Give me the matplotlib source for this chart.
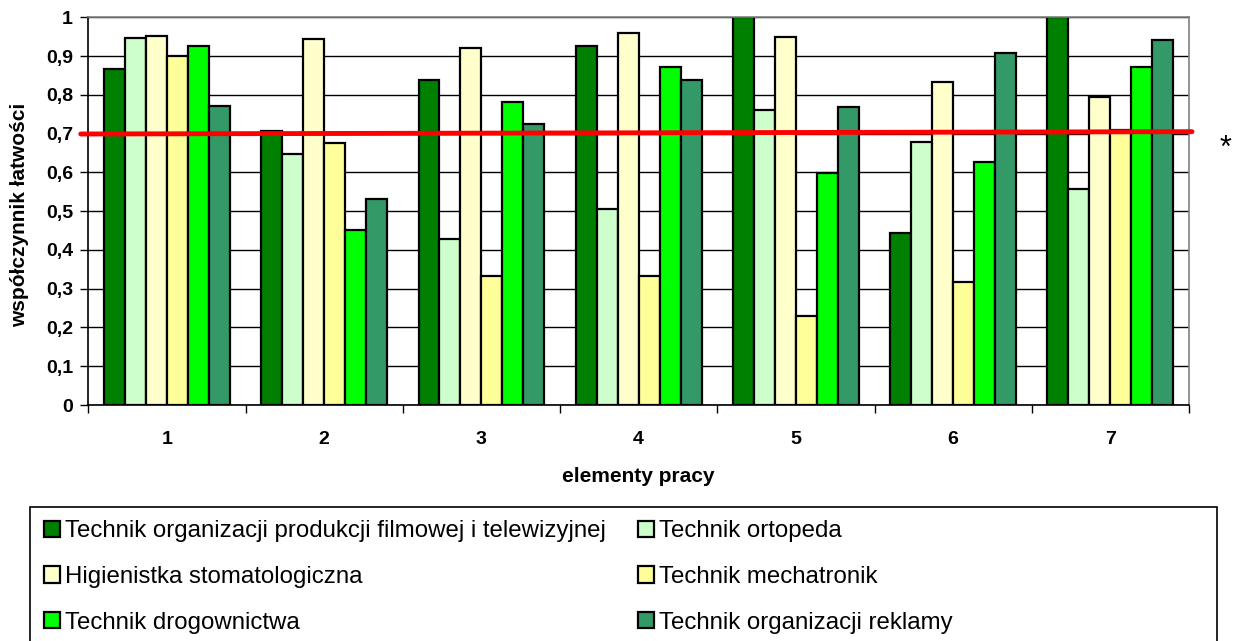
import numpy as np
import matplotlib.pyplot as plt
from matplotlib.patches import Rectangle

plt.rcParams['font.family'] = ['Liberation Sans', 'DejaVu Sans']

# elementy pracy
groups = ['1', '2', '3', '4', '5', '6', '7']
series = ['Technik organizacji produkcji filmowej i telewizyjnej',
          'Technik ortopeda',
          'Higienistka stomatologiczna',
          'Technik mechatronik',
          'Technik drogownictwa',
          'Technik organizacji reklamy']
colors = ['#008000', '#ccffcc', '#ffffcc', '#ffff99', '#00ff00', '#339966']

film = [0.866, 0.707, 0.839, 0.927, 1.0, 0.444, 1.0]
ortopeda = [0.946, 0.648, 0.429, 0.506, 0.761, 0.678, 0.558]
higienistka = [0.951, 0.943, 0.920, 0.960, 0.949, 0.834, 0.794]
mechatronik = [0.900, 0.677, 0.332, 0.332, 0.229, 0.316, 0.710]
drogownictwo = [0.926, 0.452, 0.782, 0.872, 0.598, 0.628, 0.872]
reklama = [0.770, 0.532, 0.726, 0.839, 0.769, 0.908, 0.942]
values = [film, ortopeda, higienistka, mechatronik, drogownictwo, reklama]

# red threshold line (slightly tilted in the original)
limit_x = [-0.548, 6.519]
limit_y = [0.699, 0.705]

W, H = 1234, 641
fig = plt.figure(figsize=(W / 100, H / 100), dpi=100)
ax = fig.add_axes([88.3 / W, 1 - 405 / H, (1189 - 88.3) / W, (405 - 17.3) / H])

x = np.arange(len(groups))
w = 0.8 / len(series)
bars = []
for i, vals in enumerate(values):
    b = ax.bar(x + (i - 2.5) * w, vals, w, color=colors[i], edgecolor='black',
               linewidth=1.6, label=series[i], zorder=2)
    bars.append(b)

ax.plot(limit_x, limit_y, color='#ff0000', linewidth=3.5, solid_capstyle='round',
        clip_on=False, zorder=4)

ax.set_xlim(-0.5, 6.5)
ax.set_ylim(0, 1)
yt = np.arange(0, 1.01, 0.1)
ax.set_yticks(yt)
ax.set_yticklabels([('%g' % round(v, 1)).replace('.', ',') for v in yt],
                   fontsize=14, fontweight='bold')
ax.yaxis.grid(True, color='black', linewidth=1)
ax.set_axisbelow(True)
ax.tick_params(axis='y', length=6, width=1, pad=5)

ax.set_xticks(np.arange(-0.5, 7, 1))
ax.set_xticklabels([])
ax.tick_params(axis='x', which='major', length=6, width=1)
ax.set_xticks(x, minor=True)
ax.set_xticklabels(groups, minor=True, fontsize=14, fontweight='bold')
ax.tick_params(axis='x', which='minor', length=0, pad=19)

ax.spines['left'].set_color('black')
ax.spines['bottom'].set_color('black')
ax.spines['top'].set_color('#808080')
ax.spines['right'].set_color('#808080')
for s in ax.spines.values():
    s.set_linewidth(1.2)

fig.text(638.5 / W, 1 - 477 / H, 'elementy pracy', fontsize=15,
         fontweight='bold', ha='center', va='center')
fig.text(20 / W, 1 - 215 / H, 'współczynnik łatwości', fontsize=15,
         fontweight='bold', ha='center', va='center', rotation=90)
fig.text(1225 / W, 1 - 149 / H, '*', fontsize=22, ha='center', va='center')

# legend box runs past the bottom edge
fig.patches.append(Rectangle((30 / W, -0.05), (1217 - 30) / W, 1 - 507 / H + 0.05,
                             transform=fig.transFigure, fill=False,
                             edgecolor='black', linewidth=1.2))
order = [0, 2, 4, 1, 3, 5]
fig.legend([bars[i] for i in order], [series[i] for i in order],
           loc='upper left', bbox_to_anchor=(44 / W, 1 - 520.5 / H), ncol=2,
           frameon=False, fontsize=17.3, borderpad=0, borderaxespad=0,
           handlelength=0.67, handleheight=0.67, handletextpad=0.21,
           columnspacing=1.33, labelspacing=0.98)

fig.savefig('out.png', dpi=100)
